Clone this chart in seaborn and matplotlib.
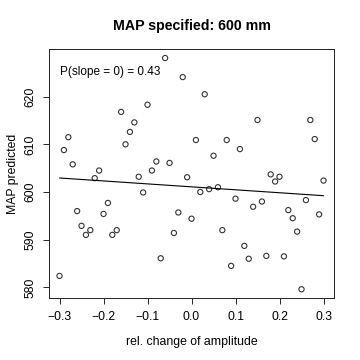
import matplotlib
matplotlib.use("Agg")
import matplotlib.pyplot as plt
import pandas as pd
import seaborn as sns

sns.set_style("ticks")
plt.rcParams["font.family"] = ["Liberation Sans", "DejaVu Sans"]
plt.rcParams["text.color"] = "black"
plt.rcParams["xtick.color"] = "black"
plt.rcParams["ytick.color"] = "black"
plt.rcParams["axes.labelcolor"] = "black"

# relative change of amplitude
amplitude = [
    -0.30, -0.29, -0.28, -0.27, -0.26, -0.25, -0.24, -0.23, -0.22, -0.21,
    -0.20, -0.19, -0.18, -0.17, -0.16, -0.15, -0.14, -0.13, -0.12, -0.11,
    -0.10, -0.09, -0.08, -0.07, -0.06, -0.05, -0.04, -0.03, -0.02, -0.01,
    0.00, 0.01, 0.02, 0.03, 0.04, 0.05, 0.06, 0.07, 0.08, 0.09,
    0.10, 0.11, 0.12, 0.13, 0.14, 0.15, 0.16, 0.17, 0.18, 0.19,
    0.20, 0.21, 0.22, 0.23, 0.24, 0.25, 0.26, 0.27, 0.28, 0.29, 0.30,
]
# predicted MAP (mm)
map_predicted = [
    582.4, 608.8, 611.5, 605.8, 596.0, 592.9, 591.0, 592.0, 602.9, 604.5,
    595.4, 597.7, 591.0, 592.0, 616.8, 610.0, 612.6, 614.6, 603.2, 599.9,
    618.3, 604.5, 606.4, 586.1, 628.1, 606.1, 591.4, 595.7, 624.1, 603.1,
    594.4, 610.9, 600.0, 620.5, 600.6, 607.6, 601.0, 592.0, 610.9, 584.5,
    598.6, 609.0, 588.7, 586.0, 596.9, 615.1, 598.0, 586.6, 603.7, 602.2,
    603.2, 586.5, 596.2, 594.5, 591.7, 579.6, 598.3, 615.1, 611.1, 595.3, 602.4,
]
p_value_text = "P(slope = 0) = 0.43"

df = pd.DataFrame({"amp": amplitude, "map": map_predicted})

fig = plt.figure(figsize=(3.6, 3.6), dpi=100)
ax = fig.add_axes([0.136, 0.172, 0.792, 0.692])

sns.regplot(
    data=df, x="amp", y="map", ci=None, ax=ax,
    scatter_kws={"s": 14, "facecolors": "none", "edgecolors": "black", "linewidths": 0.8},
    line_kws={"color": "black", "lw": 0.8},
)

ax.set_xlim(-0.324, 0.324)
ax.set_ylim(577.75, 630.0)
ax.set_xticks([-0.3, -0.2, -0.1, 0.0, 0.1, 0.2, 0.3])
ax.set_yticks([580, 590, 600, 610, 620])
ax.tick_params(axis="both", labelsize=8.7, length=4, width=0.6, pad=5)
for lbl in ax.get_yticklabels():
    lbl.set_rotation(90)
    lbl.set_va("center")
for s in ax.spines.values():
    s.set_linewidth(0.7)
    s.set_color("#222222")

ax.set_xlabel("rel. change of amplitude", fontsize=8.8, labelpad=10)
ax.set_ylabel("MAP predicted", fontsize=8.8, labelpad=4)
ax.set_title("MAP specified: 600 mm", fontsize=10.2, fontweight="bold", pad=14)
ax.text(0.04, 0.93, p_value_text, transform=ax.transAxes, fontsize=8.5, va="top", ha="left")

fig.savefig("out.png", dpi=100)
